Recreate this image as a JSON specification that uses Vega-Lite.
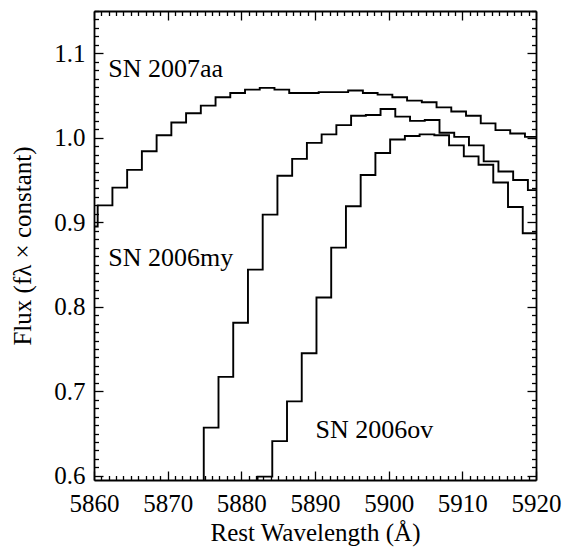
{
  "$schema": "https://vega.github.io/schema/vega-lite/v6.json",
  "width": 442,
  "height": 469,
  "autosize": {"type": "none"},
  "padding": {"left": 94, "top": 11, "right": 38, "bottom": 69},
  "background": "white",
  "config": {
    "view": {"stroke": null},
    "font": "Liberation Serif",
    "axis": {
      "grid": false,
      "domainColor": "#000000",
      "domainWidth": 1.8,
      "tickColor": "#000000",
      "tickWidth": 1.3,
      "labelColor": "#000000",
      "labelFont": "Liberation Serif",
      "labelFontSize": 25,
      "titleFont": "Liberation Serif",
      "titleFontSize": 25,
      "titleFontWeight": "normal",
      "titleColor": "#000000",
      "labelOverlap": false,
      "labelFlush": false
    }
  },
  "data": {
    "values": [
      {"sn": "SN 2007aa", "wavelength": 5859.5, "flux": 0.895},
      {"sn": "SN 2007aa", "wavelength": 5861.5, "flux": 0.920},
      {"sn": "SN 2007aa", "wavelength": 5863.5, "flux": 0.941},
      {"sn": "SN 2007aa", "wavelength": 5865.5, "flux": 0.962},
      {"sn": "SN 2007aa", "wavelength": 5867.5, "flux": 0.984},
      {"sn": "SN 2007aa", "wavelength": 5869.5, "flux": 1.003},
      {"sn": "SN 2007aa", "wavelength": 5871.5, "flux": 1.018},
      {"sn": "SN 2007aa", "wavelength": 5873.5, "flux": 1.029},
      {"sn": "SN 2007aa", "wavelength": 5875.5, "flux": 1.038},
      {"sn": "SN 2007aa", "wavelength": 5877.5, "flux": 1.048},
      {"sn": "SN 2007aa", "wavelength": 5879.5, "flux": 1.053},
      {"sn": "SN 2007aa", "wavelength": 5881.5, "flux": 1.057},
      {"sn": "SN 2007aa", "wavelength": 5883.5, "flux": 1.059},
      {"sn": "SN 2007aa", "wavelength": 5885.5, "flux": 1.057},
      {"sn": "SN 2007aa", "wavelength": 5887.5, "flux": 1.053},
      {"sn": "SN 2007aa", "wavelength": 5889.5, "flux": 1.053},
      {"sn": "SN 2007aa", "wavelength": 5891.5, "flux": 1.054},
      {"sn": "SN 2007aa", "wavelength": 5893.5, "flux": 1.054},
      {"sn": "SN 2007aa", "wavelength": 5895.5, "flux": 1.056},
      {"sn": "SN 2007aa", "wavelength": 5897.5, "flux": 1.053},
      {"sn": "SN 2007aa", "wavelength": 5899.5, "flux": 1.051},
      {"sn": "SN 2007aa", "wavelength": 5901.5, "flux": 1.048},
      {"sn": "SN 2007aa", "wavelength": 5903.5, "flux": 1.044},
      {"sn": "SN 2007aa", "wavelength": 5905.5, "flux": 1.042},
      {"sn": "SN 2007aa", "wavelength": 5907.5, "flux": 1.036},
      {"sn": "SN 2007aa", "wavelength": 5909.5, "flux": 1.031},
      {"sn": "SN 2007aa", "wavelength": 5911.5, "flux": 1.026},
      {"sn": "SN 2007aa", "wavelength": 5913.5, "flux": 1.017},
      {"sn": "SN 2007aa", "wavelength": 5915.5, "flux": 1.009},
      {"sn": "SN 2007aa", "wavelength": 5917.5, "flux": 1.005},
      {"sn": "SN 2007aa", "wavelength": 5919.5, "flux": 1.001},
      {"sn": "SN 2007aa", "wavelength": 5921.5, "flux": 1.001},
      {"sn": "SN 2006my", "wavelength": 5873.9, "flux": 0.56},
      {"sn": "SN 2006my", "wavelength": 5875.9, "flux": 0.657},
      {"sn": "SN 2006my", "wavelength": 5877.9, "flux": 0.717},
      {"sn": "SN 2006my", "wavelength": 5879.9, "flux": 0.781},
      {"sn": "SN 2006my", "wavelength": 5881.9, "flux": 0.844},
      {"sn": "SN 2006my", "wavelength": 5883.9, "flux": 0.909},
      {"sn": "SN 2006my", "wavelength": 5885.9, "flux": 0.955},
      {"sn": "SN 2006my", "wavelength": 5887.9, "flux": 0.975},
      {"sn": "SN 2006my", "wavelength": 5889.9, "flux": 0.994},
      {"sn": "SN 2006my", "wavelength": 5891.9, "flux": 1.004},
      {"sn": "SN 2006my", "wavelength": 5893.9, "flux": 1.015},
      {"sn": "SN 2006my", "wavelength": 5895.9, "flux": 1.026},
      {"sn": "SN 2006my", "wavelength": 5897.9, "flux": 1.027},
      {"sn": "SN 2006my", "wavelength": 5899.9, "flux": 1.034},
      {"sn": "SN 2006my", "wavelength": 5901.9, "flux": 1.025},
      {"sn": "SN 2006my", "wavelength": 5903.9, "flux": 1.020},
      {"sn": "SN 2006my", "wavelength": 5905.9, "flux": 1.021},
      {"sn": "SN 2006my", "wavelength": 5907.9, "flux": 1.006},
      {"sn": "SN 2006my", "wavelength": 5909.9, "flux": 1.001},
      {"sn": "SN 2006my", "wavelength": 5911.9, "flux": 0.991},
      {"sn": "SN 2006my", "wavelength": 5913.9, "flux": 0.972},
      {"sn": "SN 2006my", "wavelength": 5915.9, "flux": 0.960},
      {"sn": "SN 2006my", "wavelength": 5917.9, "flux": 0.950},
      {"sn": "SN 2006my", "wavelength": 5919.9, "flux": 0.938},
      {"sn": "SN 2006my", "wavelength": 5921.9, "flux": 0.938},
      {"sn": "SN 2006ov", "wavelength": 5881.2, "flux": 0.56},
      {"sn": "SN 2006ov", "wavelength": 5883.2, "flux": 0.599},
      {"sn": "SN 2006ov", "wavelength": 5885.2, "flux": 0.641},
      {"sn": "SN 2006ov", "wavelength": 5887.2, "flux": 0.688},
      {"sn": "SN 2006ov", "wavelength": 5889.2, "flux": 0.745},
      {"sn": "SN 2006ov", "wavelength": 5891.2, "flux": 0.811},
      {"sn": "SN 2006ov", "wavelength": 5893.2, "flux": 0.870},
      {"sn": "SN 2006ov", "wavelength": 5895.2, "flux": 0.919},
      {"sn": "SN 2006ov", "wavelength": 5897.2, "flux": 0.956},
      {"sn": "SN 2006ov", "wavelength": 5899.2, "flux": 0.982},
      {"sn": "SN 2006ov", "wavelength": 5901.2, "flux": 0.998},
      {"sn": "SN 2006ov", "wavelength": 5903.2, "flux": 1.002},
      {"sn": "SN 2006ov", "wavelength": 5905.2, "flux": 1.004},
      {"sn": "SN 2006ov", "wavelength": 5907.2, "flux": 1.003},
      {"sn": "SN 2006ov", "wavelength": 5909.2, "flux": 0.991},
      {"sn": "SN 2006ov", "wavelength": 5911.2, "flux": 0.978},
      {"sn": "SN 2006ov", "wavelength": 5913.2, "flux": 0.968},
      {"sn": "SN 2006ov", "wavelength": 5915.2, "flux": 0.947},
      {"sn": "SN 2006ov", "wavelength": 5917.2, "flux": 0.918},
      {"sn": "SN 2006ov", "wavelength": 5919.2, "flux": 0.887},
      {"sn": "SN 2006ov", "wavelength": 5921.2, "flux": 0.887}
    ]
  },
  "resolve": {"axis": {"x": "independent", "y": "independent"}},
  "layer": [
    {
      "mark": {"type": "line", "interpolate": "step", "clip": true, "color": "black", "strokeWidth": 1.9},
      "encoding": {
        "x": {
          "field": "wavelength", "type": "quantitative",
          "scale": {"domain": [5860, 5920], "nice": false, "zero": false},
          "axis": {
            "orient": "bottom",
            "title": "Rest Wavelength (Å)",
            "titleColor": "#000000",
            "values": [5860,5861,5862,5863,5864,5865,5866,5867,5868,5869,5870,5871,5872,5873,5874,5875,5876,5877,5878,5879,5880,5881,5882,5883,5884,5885,5886,5887,5888,5889,5890,5891,5892,5893,5894,5895,5896,5897,5898,5899,5900,5901,5902,5903,5904,5905,5906,5907,5908,5909,5910,5911,5912,5913,5914,5915,5916,5917,5918,5919,5920],
            "format": "d",
            "labelExpr": "datum.value % 10 === 0 ? datum.label : ''",
            "tickSize": {"condition": {"test": "datum.value % 10 === 0", "value": -9}, "value": -4.5},
            "labelPadding": 20,
            "titlePadding": 0
          }
        },
        "y": {
          "field": "flux", "type": "quantitative",
          "scale": {"domain": [0.595, 1.15], "nice": false, "zero": false},
          "axis": {
            "orient": "left",
            "title": "Flux (fλ × constant)",
            "titleColor": "#000000",
            "values": [0.6,0.61,0.62,0.63,0.64,0.65,0.66,0.67,0.68,0.69,0.7,0.71,0.72,0.73,0.74,0.75,0.76,0.77,0.78,0.79,0.8,0.81,0.82,0.83,0.84,0.85,0.86,0.87,0.88,0.89,0.9,0.91,0.92,0.93,0.94,0.95,0.96,0.97,0.98,0.99,1.0,1.01,1.02,1.03,1.04,1.05,1.06,1.07,1.08,1.09,1.1,1.11,1.12,1.13,1.14,1.15],
            "labelExpr": "round(datum.value*100) % 10 === 0 ? format(datum.value, '.1f') : ''",
            "tickSize": {"condition": {"test": "round(datum.value*100) % 10 === 0", "value": -9}, "value": -4.5},
            "labelPadding": 18,
            "titlePadding": 18
          }
        },
        "detail": {"field": "sn", "type": "nominal"}
      }
    },
    {
      "mark": {"type": "line", "interpolate": "step", "clip": true, "opacity": 0},
      "encoding": {
        "x": {
          "field": "wavelength", "type": "quantitative",
          "axis": {
            "orient": "top",
            "title": null,
            "labels": false,
            "values": [5860,5861,5862,5863,5864,5865,5866,5867,5868,5869,5870,5871,5872,5873,5874,5875,5876,5877,5878,5879,5880,5881,5882,5883,5884,5885,5886,5887,5888,5889,5890,5891,5892,5893,5894,5895,5896,5897,5898,5899,5900,5901,5902,5903,5904,5905,5906,5907,5908,5909,5910,5911,5912,5913,5914,5915,5916,5917,5918,5919,5920],
            "tickSize": {"condition": {"test": "datum.value % 10 === 0", "value": -9}, "value": -4.5}
          }
        },
        "y": {
          "field": "flux", "type": "quantitative",
          "axis": {
            "orient": "right",
            "title": null,
            "labels": false,
            "values": [0.6,0.61,0.62,0.63,0.64,0.65,0.66,0.67,0.68,0.69,0.7,0.71,0.72,0.73,0.74,0.75,0.76,0.77,0.78,0.79,0.8,0.81,0.82,0.83,0.84,0.85,0.86,0.87,0.88,0.89,0.9,0.91,0.92,0.93,0.94,0.95,0.96,0.97,0.98,0.99,1.0,1.01,1.02,1.03,1.04,1.05,1.06,1.07,1.08,1.09,1.1,1.11,1.12,1.13,1.14,1.15],
            "tickSize": {"condition": {"test": "round(datum.value*100) % 10 === 0", "value": -9}, "value": -4.5}
          }
        },
        "detail": {"field": "sn", "type": "nominal"}
      }
    },
    {
      "data": {
        "values": [
          {"label": "SN 2007aa", "wavelength": 5861.94, "flux": 1.0716},
          {"label": "SN 2006my", "wavelength": 5861.94, "flux": 0.8486},
          {"label": "SN 2006ov", "wavelength": 5890.08, "flux": 0.6442}
        ]
      },
      "mark": {"type": "text", "align": "left", "baseline": "alphabetic", "font": "Liberation Serif", "fontSize": 26, "color": "#000000"},
      "encoding": {
        "x": {"field": "wavelength", "type": "quantitative", "axis": null},
        "y": {"field": "flux", "type": "quantitative", "axis": null},
        "text": {"field": "label", "type": "nominal"}
      }
    }
  ]
}
